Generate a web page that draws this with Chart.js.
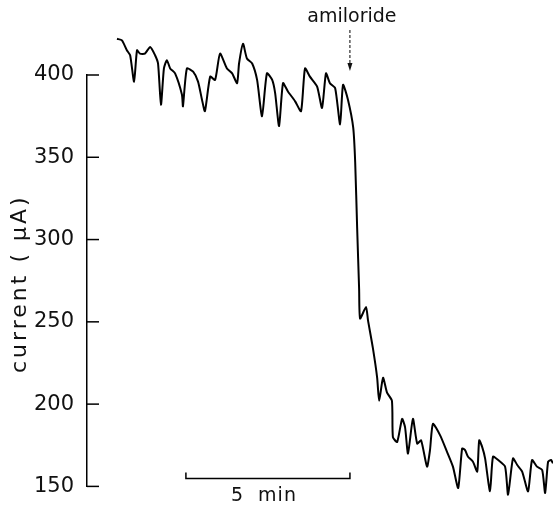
<!DOCTYPE html>
<html>
<head>
<meta charset="utf-8">
<script src="https://cdn.jsdelivr.net/npm/chart.js@4.4.1/dist/chart.umd.min.js"></script>
<style>
  html, body { margin: 0; padding: 0; background: #fff; }
  #wrap { width: 553px; height: 512px; position: relative; }
</style>
</head>
<body>
<div id="wrap"><canvas id="chart"></canvas></div>
<script>
// time in minutes from start of trace, current in µA
var times = [0, 0.15, 0.30, 0.40, 0.52, 0.61, 0.70, 0.85, 1.01, 1.16, 1.25, 1.34, 1.43, 1.52, 1.62, 1.77,
  1.98, 2.01, 2.13, 2.32, 2.47, 2.59, 2.68, 2.84, 2.99, 3.14, 3.35, 3.51, 3.66, 3.72, 3.84, 3.96,
  4.12, 4.27, 4.42, 4.57, 4.73, 4.82, 4.94, 5.06, 5.21, 5.43, 5.61, 5.73, 5.88, 6.10, 6.25, 6.37,
  6.49, 6.65, 6.80, 6.89, 7.04, 7.20, 7.26, 7.32, 7.38, 7.41, 7.59, 7.65, 7.80, 7.93, 7.99, 8.11,
  8.23, 8.38, 8.41, 8.54, 8.69, 8.78, 8.87, 9.02, 9.15, 9.27, 9.45, 9.54, 9.63, 9.85, 10.06, 10.24,
  10.40, 10.52, 10.61, 10.70, 10.85, 10.98, 11.04, 11.13, 11.22, 11.37, 11.46, 11.62, 11.83, 11.92,
  12.07, 12.20, 12.35, 12.53, 12.65, 12.80, 12.96, 13.05, 13.14, 13.23, 13.29];
var current = [422, 421, 415, 412, 396, 415, 413, 413, 417, 412, 407, 382, 404, 409, 404, 401,
  388, 381, 404, 402, 396, 385, 378, 399, 397, 413, 404, 401, 395, 407, 419, 410,
  407, 397, 375, 401, 397, 389, 369, 395, 390, 384, 378, 404, 399, 393, 380, 401,
  395, 392, 370, 394, 385, 368, 347, 307, 270, 252, 259, 251, 234, 216, 202, 216,
  207, 202, 180, 177, 191, 186, 170, 191, 176, 178, 162, 172, 188, 181, 171, 162,
  149, 173, 172, 168, 165, 159, 178, 174, 167, 147, 168, 166, 162, 145,
  167, 163, 159, 147, 166, 162, 160, 146, 165, 166, 164];
var yTicks = [150, 200, 250, 300, 350, 400];
var amilorideAt = 7.1;      // min
var scaleBar = [2.1, 7.1];  // 5 min bar

var points = times.map(function (t, i) { return { x: t, y: current[i] }; });

var overlay = {
  id: 'overlay',
  afterDraw: function (chart) {
    var ctx = chart.ctx, area = chart.chartArea;
    var x = chart.scales.x, y = chart.scales.y;
    ctx.save();
    ctx.strokeStyle = '#000';
    ctx.fillStyle = '#111';
    ctx.lineWidth = 1.5;
    // ticks pointing inward
    yTicks.forEach(function (v) {
      var py = y.getPixelForValue(v);
      ctx.beginPath();
      ctx.moveTo(area.left, py);
      ctx.lineTo(area.left + 12, py);
      ctx.stroke();
    });
    // y title
    ctx.save();
    ctx.translate(20, (area.top + area.bottom) / 2 + 3);
    ctx.rotate(-Math.PI / 2);
    ctx.font = '22px "DejaVu Sans"';
    ctx.letterSpacing = '3px';
    ctx.textAlign = 'center';
    ctx.textBaseline = 'middle';
    ctx.fillText('current ( \u03BCA)', 0, 0);
    ctx.restore();
    // 5 min scale bar
    var x0 = x.getPixelForValue(scaleBar[0]), x1 = x.getPixelForValue(scaleBar[1]);
    var by = area.bottom - 8;
    ctx.beginPath();
    ctx.moveTo(x0, by - 6);
    ctx.lineTo(x0, by);
    ctx.lineTo(x1, by);
    ctx.lineTo(x1, by - 6);
    ctx.stroke();
    ctx.font = '19px "DejaVu Sans"';
    ctx.textAlign = 'center';
    ctx.textBaseline = 'middle';
    ctx.letterSpacing = '1px';
    ctx.fillText('5  min', (x0 + x1) / 2 - 4, by + 18);
    // amiloride arrow
    var ax = x.getPixelForValue(amilorideAt);
    ctx.letterSpacing = '0px';
    ctx.fillText('amiloride', ax + 2, 17);
    ctx.lineWidth = 1;
    ctx.setLineDash([3, 2]);
    ctx.beginPath();
    ctx.moveTo(ax, 30);
    ctx.lineTo(ax, 64);
    ctx.stroke();
    ctx.setLineDash([]);
    ctx.beginPath();
    ctx.moveTo(ax - 2.5, 63);
    ctx.lineTo(ax + 2.5, 63);
    ctx.lineTo(ax, 71);
    ctx.closePath();
    ctx.fill();
    ctx.restore();
  }
};

var ctx = document.getElementById('chart').getContext('2d');
var myChart = new Chart(ctx, {
  type: 'line',
  data: {
    datasets: [{
      data: points,
      borderColor: '#000',
      borderWidth: 2,
      pointRadius: 0,
      tension: 0.2,
      clip: false
    }]
  },
  options: {
    responsive: true,
    maintainAspectRatio: false,
    animation: false,
    layout: { padding: { top: 75, bottom: 22, left: 0, right: 0 } },
    plugins: { legend: { display: false }, tooltip: { enabled: false } },
    scales: {
      x: { type: 'linear', min: -0.915, max: 13.29, display: false },
      y: {
        min: 150, max: 400,
        afterBuildTicks: function (s) { s.ticks = yTicks.map(function (v) { return { value: v }; }); },
        afterFit: function (s) { s.width = 87; },
        grid: { display: false, drawTicks: false },
        border: { display: true, color: '#000', width: 1.5 },
        ticks: { padding: 13, color: '#111', font: { family: 'DejaVu Sans', size: 21 } }
      }
    }
  },
  plugins: [overlay]
});
</script>
</body>
</html>
